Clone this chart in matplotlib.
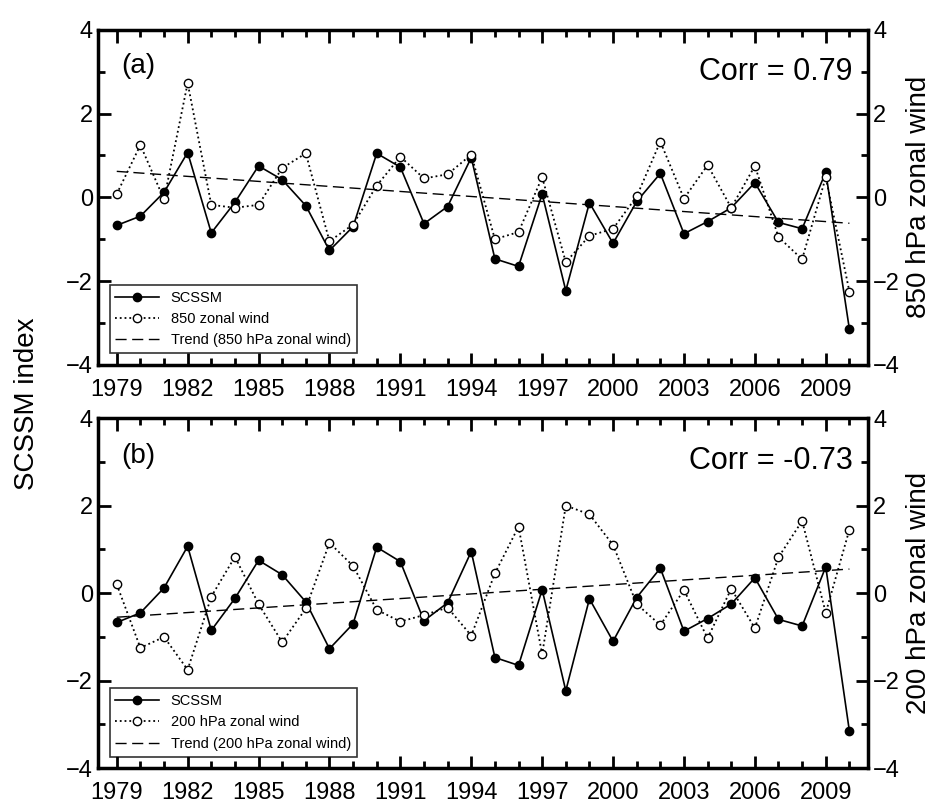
import matplotlib
matplotlib.use("Agg")
import matplotlib.pyplot as plt
import numpy as np
from matplotlib.ticker import MultipleLocator

plt.rcParams["font.family"] = ["Liberation Sans", "DejaVu Sans"]

years = np.arange(1979, 2011)
scssm = [-0.67, -0.45, 0.12, 1.07, -0.85, -0.12, 0.75, 0.42, -0.2, -1.27, -0.7, 1.05,
         0.72, -0.63, -0.22, 0.95, -1.47, -1.65, 0.08, -2.23, -0.13, -1.1, -0.1, 0.57,
         -0.87, -0.58, -0.25, 0.35, -0.6, -0.75, 0.6, -3.15]
u850 = [0.08, 1.25, -0.05, 2.73, -0.18, -0.25, -0.18, 0.7, 1.05, -1.05, -0.65, 0.28,
        0.97, 0.45, 0.55, 1.02, -1.0, -0.83, 0.48, -1.55, -0.92, -0.75, 0.02, 1.33,
        -0.03, 0.77, -0.25, 0.75, -0.95, -1.48, 0.48, -2.25]
u200 = [0.2, -1.25, -1.0, -1.75, -0.08, 0.83, -0.25, -1.12, -0.35, 1.15, 0.62, -0.38,
        -0.65, -0.5, -0.33, -0.97, 0.45, 1.52, -1.4, 2.0, 1.8, 1.1, -0.25, -0.73,
        0.07, -1.03, 0.1, -0.8, 0.82, 1.65, -0.45, 1.45]
trend850 = [0.62, -0.62]
trend200 = [-0.55, 0.55]

panels = [
    ("(a)", "Corr = 0.79", u850, "850 zonal wind", trend850,
     "Trend (850 hPa zonal wind)", "850 hPa zonal wind"),
    ("(b)", "Corr = -0.73", u200, "200 hPa zonal wind", trend200,
     "Trend (200 hPa zonal wind)", "200 hPa zonal wind"),
]

fig = plt.figure(figsize=(9.5, 8.07), dpi=100)
boxes = [[0.103, 0.548, 0.811, 0.415], [0.103, 0.048, 0.811, 0.434]]


def style_y(axis, side):
    axis.set_ylim(-4, 4)
    axis.yaxis.set_major_locator(MultipleLocator(2))
    axis.yaxis.set_minor_locator(MultipleLocator(1))
    axis.tick_params(axis="y", which="both", direction="in", width=2, labelsize=17,
                     left=(side == "left"), right=(side == "right"),
                     labelleft=(side == "left"), labelright=(side == "right"))
    axis.tick_params(axis="y", which="major", length=9)
    axis.tick_params(axis="y", which="minor", length=5)


for box, (tag, corr, wind, wlabel, trend, tlabel, rlabel) in zip(boxes, panels):
    ax = fig.add_axes(box)
    ax.plot(years, scssm, "k-", marker="o", ms=6, lw=1.2, label="SCSSM")
    ax.plot(years, wind, "k:", marker="o", ms=6, mfc="white", lw=1.3, label=wlabel)
    ax.plot([years[0], years[-1]], trend, "k--", dashes=(8, 4), lw=1, label=tlabel)
    ax.set_xlim(1978.2, 2010.8)
    ax.set_xticks(np.arange(1979, 2011, 3))
    ax.xaxis.set_minor_locator(MultipleLocator(1))
    ax.tick_params(axis="x", which="both", direction="in", top=True, width=2,
                   labelsize=17, pad=10)
    ax.tick_params(axis="x", which="major", length=9)
    ax.tick_params(axis="x", which="minor", length=5)
    style_y(ax, "left")
    for s in ax.spines.values():
        s.set_linewidth(2.5)
    ax.text(0.03, 0.93, tag, transform=ax.transAxes, fontsize=20, va="top")
    ax.text(0.98, 0.92, corr, transform=ax.transAxes, fontsize=22, ha="right", va="top")
    ax.legend(loc="lower left", fontsize=10.5, frameon=True, fancybox=False,
              edgecolor="black", handlelength=3, borderaxespad=0.8)
    ax.legend_.get_frame().set_linewidth(1.2)
    ax2 = ax.twinx()
    style_y(ax2, "right")
    ax2.set_ylabel(rlabel, fontsize=20, labelpad=4)

fig.text(0.015, 0.5, "SCSSM index", rotation=90, fontsize=20, va="center")
fig.savefig("out.png", dpi=100)
